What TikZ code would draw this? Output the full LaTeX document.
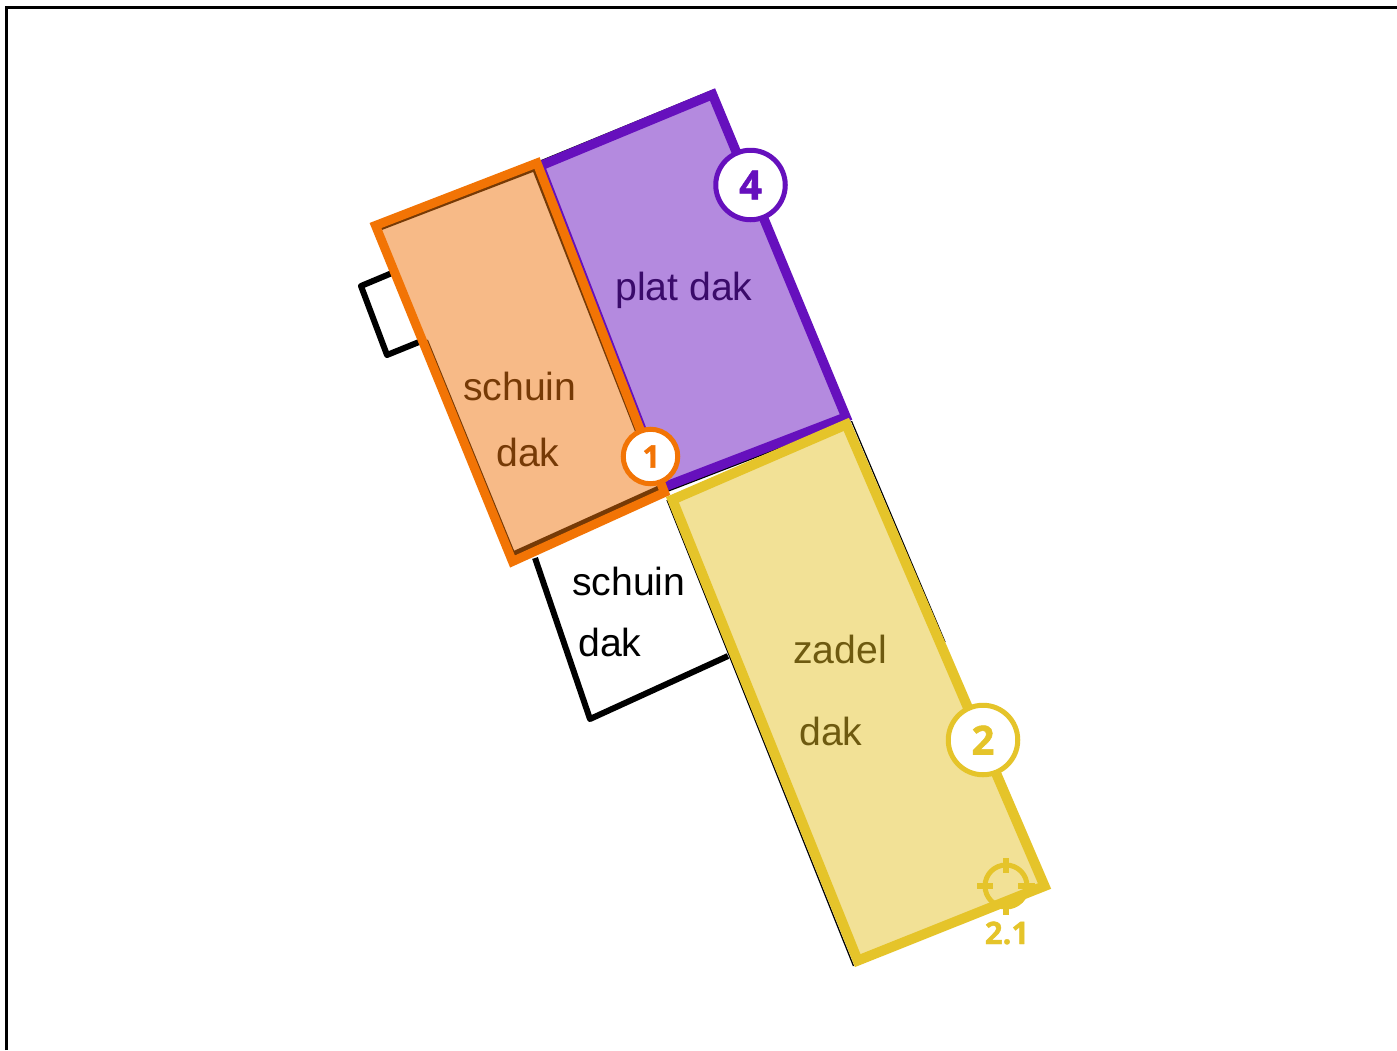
\documentclass[tikz,border=0pt]{standalone}
\usepackage{fontspec}
\setmainfont{Liberation Sans}
\newfontfamily\numfont[BoldFeatures={FakeBold=1.3}]{Open Sans}
\definecolor{orS}{HTML}{F27405}
\definecolor{orF}{HTML}{F7BA87}
\definecolor{orD}{HTML}{763A06}
\definecolor{puS}{HTML}{6610BD}
\definecolor{puF}{HTML}{B48ADF}
\definecolor{puD}{HTML}{3A0B6A}
\definecolor{yeS}{HTML}{E5C42A}
\definecolor{yeF}{HTML}{F2E196}
\definecolor{yeD}{HTML}{6E5A10}
\tikzset{
  lbl/.style={anchor=base west,inner sep=0pt,font=\fontsize{39.2}{40}\selectfont},
  badge/.style={circle,fill=white,line width=5pt,inner sep=0pt,
    font=\numfont\bfseries\fontsize{40}{40}\selectfont},
  blk/.style={draw=black,line width=6pt,line join=round},
}
\begin{document}
\begin{tikzpicture}[x=1pt,y=-1pt]
\useasboundingbox (0,0) rectangle (1397,1050);
\fill[white] (0,0) rectangle (1397,1050);
% frame
\draw[black,line width=3pt] (6.5,1050) -- (6.5,7.5) -- (1397,7.5);
% black outlines
\draw[blk] (392,273) -- (361,286) -- (387,355) -- (424,340);
\draw[blk] (535,558) -- (590,719) -- (728,656);
\draw[black,line width=1pt] (540,161) -- (713,90);
\draw[black,line width=3pt] (666,491) -- (850,420);
\draw[black,line width=1.2pt] (851.5,421) -- (945,642);
\draw[black,line width=1.3pt] (667,500) -- (853.5,966);
% purple
\draw[draw=puS,fill=puF,line width=9.5pt,miter limit=10] (540,166) -- (712.5,94.5) -- (846,417) -- (664,487) -- cycle;
% yellow
\draw[draw=yeS,fill=yeF,line width=10pt,miter limit=10] (846.3,424.4) -- (1044.5,886) -- (857.7,960.6) -- (672.4,499.7) -- cycle;
% orange
\fill[orF] (375.5,225.5) -- (537,163) -- (664.5,492.5) -- (512.5,561.5) -- cycle;
\draw[orD,line width=3pt] (379,229.5) -- (534,170) -- (647,458);
\draw[orD,line width=2pt] (427,340) -- (514,553);
\draw[orD,line width=5pt] (513,554) -- (660,487.5);
\draw[draw=orS,line width=9pt,miter limit=10] (375.5,225.5) -- (537,163) -- (664.5,492.5) -- (512.5,561.5) -- cycle;
% labels
\node[lbl,text=orD] (s1) at (463,400) {schuin};
\node[lbl,text=orD] (d1) at (496,466) {dak};
\node[lbl,text=puD] (p) at (615,300) {plat dak};
\node[lbl,text=black] (s2) at (572,595) {schuin};
\node[lbl,text=black] (d2) at (578,656) {dak};
\node[lbl,text=yeD] (z) at (793,663) {zadel};
\node[lbl,text=yeD] (d3) at (799,745) {dak};
% badges
\node[badge,draw=orS,text=orS,minimum size=54.5pt,font=\numfont\bfseries\fontsize{31}{31}\selectfont] (b1) at (650.5,456.5) {\hspace{1.5pt}1};
\node[badge,draw=puS,text=puS,minimum size=69.5pt] (b4) at (750.5,185) {4};
\node[badge,draw=yeS,text=yeS,minimum size=69.5pt] (b2) at (983,740) {2};
% crosshair
\coordinate (c) at (1006,886);
\draw[yeS,line width=5pt] (c) circle[radius=21];
\draw[yeS,line width=6.5pt] (1006,858) -- (1006,873);
\draw[yeS,line width=6.5pt] (1006,900) -- (1006,915);
\draw[yeS,line width=6.5pt] (977,886) -- (993,886);
\draw[yeS,line width=6.5pt] (1018,886) -- (1035,886);
\node[anchor=base,inner sep=0pt,text=yeS,font=\numfont\bfseries\fontsize{31}{31}\selectfont] (t) at (1007,944) {2.1};
\end{tikzpicture}
\end{document}
